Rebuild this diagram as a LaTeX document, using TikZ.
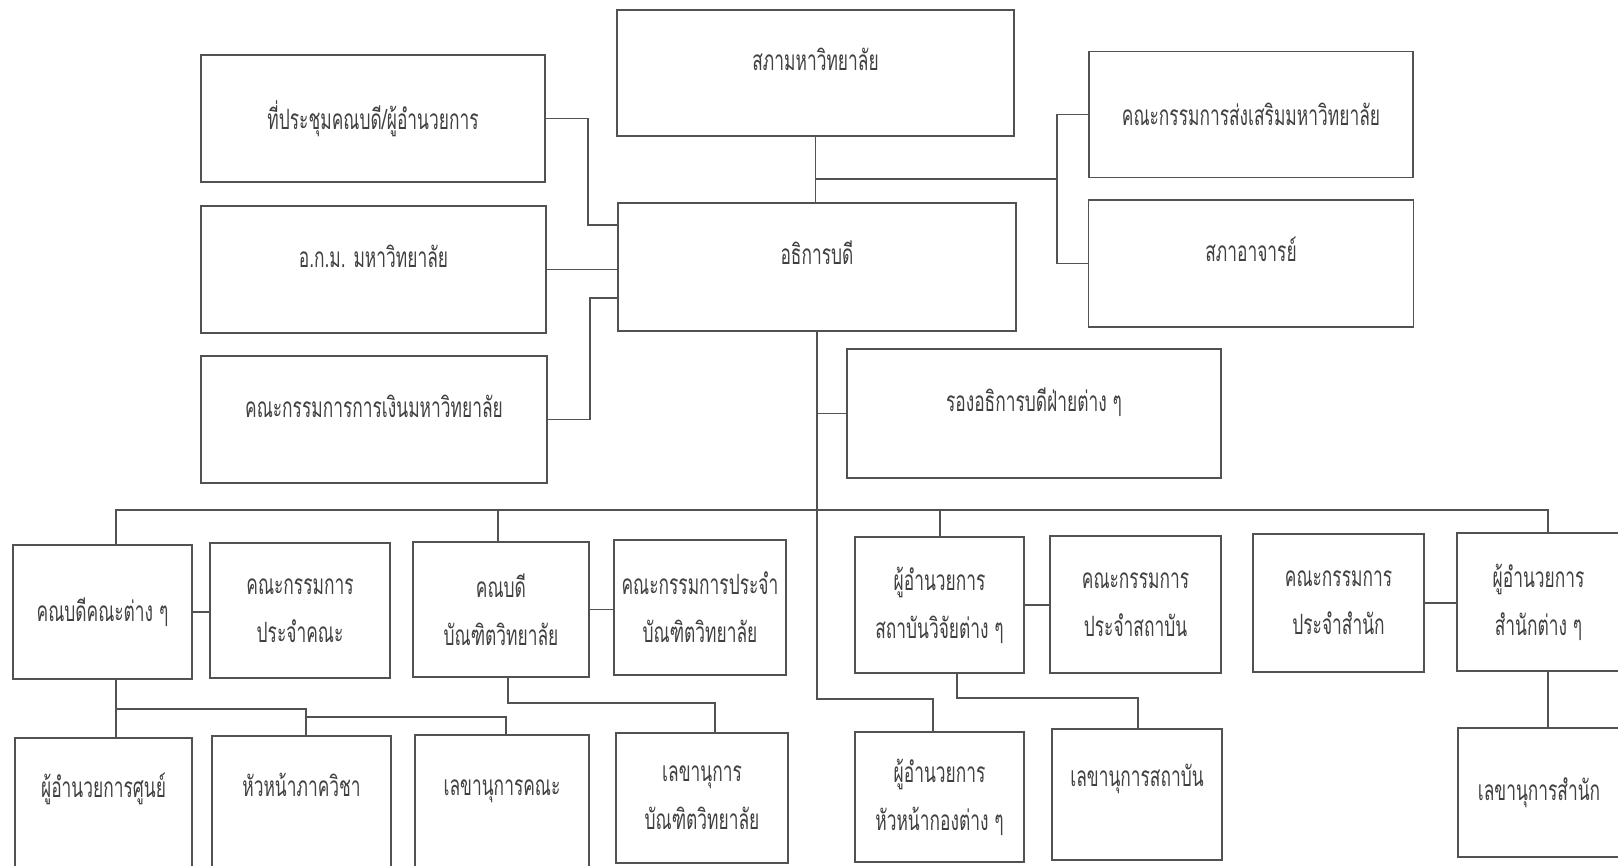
\documentclass[tikz,border=0pt]{standalone}
\usepackage{fontspec}
\newfontfamily\thaifont[Script=Thai,FakeStretch=0.62]{Loma}
\definecolor{lineg}{rgb}{0.32,0.32,0.32}
\definecolor{textg}{rgb}{0.25,0.25,0.25}

\begin{document}
\begin{tikzpicture}[x=0.5pt, y=-0.5pt,
    box/.style={draw=lineg, line width=0.85pt, inner sep=2pt, align=center,
      text=textg, font=\thaifont\fontsize{14}{24}\selectfont},
    raised/.style={text height=9pt, text depth=11pt},
    raisedmore/.style={text height=6pt, text depth=14pt},
    line/.style={lineg, line width=0.85pt}]
        \useasboundingbox (0,0) rectangle (1618,866);

        \node[box, raised, minimum width=198.5pt, minimum height=63pt] (sapha) at (815.5,73) {สภามหาวิทยาลัย};
        \node[box, minimum width=172pt, minimum height=63.5pt] (prachum) at (373,118.5) {ที่ประชุมคณบดี/ผู้อำนวยการ};
        \node[box, raised, minimum width=172.5pt, minimum height=63.5pt] (akm) at (373.5,269.5) {อ.ก.ม. มหาวิทยาลัย};
        \node[box, raised, minimum width=173pt, minimum height=63.5pt] (finance) at (374,419.5) {คณะกรรมการการเงินมหาวิทยาลัย};
        \node[box, raised, minimum width=199pt, minimum height=64pt] (president) at (817,267) {อธิการบดี};
        \node[box, minimum width=162pt, minimum height=63pt] (promote) at (1251,114.5) {คณะกรรมการส่งเสริมมหาวิทยาลัย};
        \node[box, raised, minimum width=162.5pt, minimum height=63.5pt] (senate) at (1251,263.5) {สภาอาจารย์};
        \node[box, raised, minimum width=187pt, minimum height=64.5pt] (vice) at (1034,413.5) {รองอธิการบดีฝ่ายต่าง ๆ};

        \node[box, minimum width=89.5pt, minimum height=67pt] (deans) at (102.5,612) {คณบดีคณะต่าง ๆ};
        \node[box, minimum width=90pt, minimum height=67.5pt] (faccom) at (300,610.5) {คณะกรรมการ\\ประจำคณะ};
        \node[box, minimum width=88pt, minimum height=67.5pt] (graddean) at (501,609.5) {คณบดี\\บัณฑิตวิทยาลัย};
        \node[box, minimum width=86pt, minimum height=67.5pt] (gradcom) at (700,607.5) {คณะกรรมการประจำ\\บัณฑิตวิทยาลัย};
        \node[box, minimum width=84.5pt, minimum height=68pt] (instdir) at (939.5,605) {ผู้อำนวยการ\\สถาบันวิจัยต่าง ๆ};
        \node[box, minimum width=85.5pt, minimum height=68.5pt] (instcom) at (1135.5,604.5) {คณะกรรมการ\\ประจำสถาบัน};
        \node[box, minimum width=85.5pt, minimum height=69pt] (offcom) at (1338.5,603) {คณะกรรมการ\\ประจำสำนัก};
        \node[box, minimum width=81.5pt, minimum height=69pt] (offdir) at (1538.5,602) {ผู้อำนวยการ\\สำนักต่าง ๆ};

        \node[box, raisedmore, minimum width=88.5pt, minimum height=67pt] (centerdir) at (103.5,805) {ผู้อำนวยการศูนย์};
        \node[box, raisedmore, minimum width=89.5pt, minimum height=68pt] (depthead) at (301.5,804) {หัวหน้าภาควิชา};
        \node[box, raisedmore, minimum width=87pt, minimum height=68.5pt] (facsec) at (502,803.5) {เลขานุการคณะ};
        \node[box, minimum width=86pt, minimum height=65pt] (gradsec) at (702,798) {เลขานุการ\\บัณฑิตวิทยาลัย};
        \node[box, minimum width=84.5pt, minimum height=65pt] (divhead) at (939.5,797) {ผู้อำนวยการ\\หัวหน้ากองต่าง ๆ};
        \node[box, raisedmore, minimum width=85pt, minimum height=65.5pt] (instsec) at (1137,794.5) {เลขานุการสถาบัน};
        \node[box, minimum width=81pt, minimum height=64.5pt] (offsec) at (1539,792.5) {เลขานุการสำนัก};

        \coordinate (rb) at (1057,179);
        \draw[line] (sapha.south) -- (sapha.south |- president.north);
        \draw[line] (sapha.south |- rb) -- (rb);
        \draw[line] (promote.west) -| (rb) |- (senate.west);

        \coordinate (lb1) at (588,225);
        \coordinate (lb2) at (590,298);
        \draw[line] (prachum.east) -| (lb1) -- (lb1 -| president.west);
        \draw[line] (akm.east) -- (akm.east -| president.west);
        \draw[line] (finance.east) -| (lb2) -- (lb2 -| president.west);

        \coordinate (tk) at (933,699);
        \draw[line] (president.south) |- (tk) -- (tk |- divhead.north);
        \draw[line] (president.south |- vice.west) -- (vice.west);

        \coordinate (busl) at (116,510);
        \coordinate (busr) at (1548,510);
        \coordinate (bg) at (498,510);
        \coordinate (bi) at (940,510);
        \draw[line] (busl |- deans.north) -- (busl) -- (busr) -- (busr |- offdir.north);
        \draw[line] (bg) -- (bg |- graddean.north);
        \draw[line] (bi) -- (bi |- instdir.north);

        \draw[line] (deans.east) -- (deans.east -| faccom.west);
        \draw[line] (graddean.east) -- (graddean.east -| gradcom.west);
        \draw[line] (instdir.east) -- (instdir.east -| instcom.west);
        \draw[line] (offcom.east) -- (offcom.east -| offdir.west);

        \coordinate (fa) at (116,709);
        \coordinate (fm) at (306,709);
        \coordinate (fb) at (306,717);
        \coordinate (fc) at (506,717);
        \draw[line] (fa |- deans.south) -- (fa |- centerdir.north);
        \draw[line] (fa) -- (fm) -- (fm |- depthead.north);
        \draw[line] (fb) -- (fc) -- (fc |- facsec.north);

        \coordinate (ga) at (508,703);
        \coordinate (gb) at (715,703);
        \draw[line] (ga |- graddean.south) -- (ga) -- (gb) -- (gb |- gradsec.north);

        \coordinate (ia) at (957,698);
        \coordinate (ib) at (1138,698);
        \draw[line] (ia |- instdir.south) -- (ia) -- (ib) -- (ib |- instsec.north);

        \draw[line] (busr |- offdir.south) -- (busr |- offsec.north);
    \end{tikzpicture}
\end{document}
